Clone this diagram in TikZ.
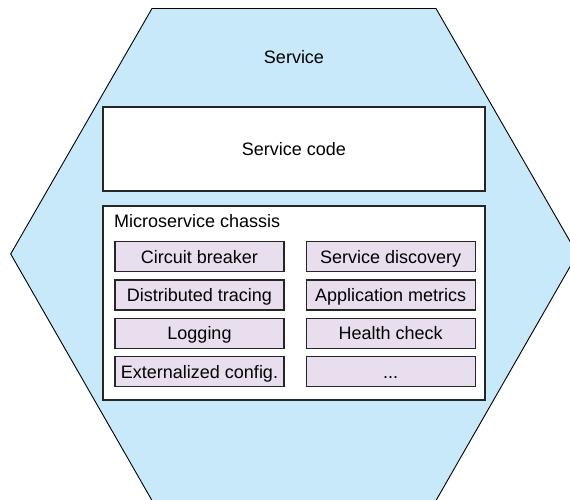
\documentclass[tikz,border=0pt]{standalone}
\usepackage{fontspec}
\setmainfont{Liberation Sans}
\usetikzlibrary{positioning}
\definecolor{hexblue}{RGB}{199,233,249}
\definecolor{lilac}{RGB}{232,222,238}
\newcommand{\moredots}{...}

\begin{document}
\begin{tikzpicture}[x=1pt,y=-1pt,
  every node/.style={font=\fontsize{18}{22}\selectfont},
  panel/.style={draw=black!85, line width=1.1pt, fill=white, inner sep=0pt},
  feature/.style={draw=black!85, line width=1.1pt, fill=lilac,
    minimum width=169pt, minimum height=30pt, inner sep=0pt,
    text height=13pt, text depth=0pt}]
  \useasboundingbox (0,0) rectangle (570,500);
  \fill[hexblue] (10.7,254) -- (152,8.5) -- (436,8.5) -- (577.3,254) -- (436,500.5) -- (152,500.5) -- cycle;
  \draw[line width=0.9pt] (152,500.5) -- (10.7,254) -- (152,8.5) -- (436,8.5) -- (577.3,254) -- (436,500.5);
  \node (service) at (294,57) {Service};
  \node[panel, minimum width=382pt, minimum height=84pt] (code) at (294,149) {Service code};
  \node[panel, minimum width=382pt, minimum height=194pt] (chassis) at (294,303) {};
  \node[anchor=west, inner sep=0pt] (chassislabel) at (114,221) {Microservice chassis};
  \foreach \lname/\rname [count=\i] in {Circuit breaker/Service discovery,
      Distributed tracing/Application metrics, Logging/Health check,
      Externalized config./\moredots} {
    \node[feature] (left\i) at (199.5,{256.7+38.33*(\i-1)}) {\lname};
    \node[feature, right=21pt of left\i] (right\i) {\rname};
  }
\end{tikzpicture}
\end{document}
